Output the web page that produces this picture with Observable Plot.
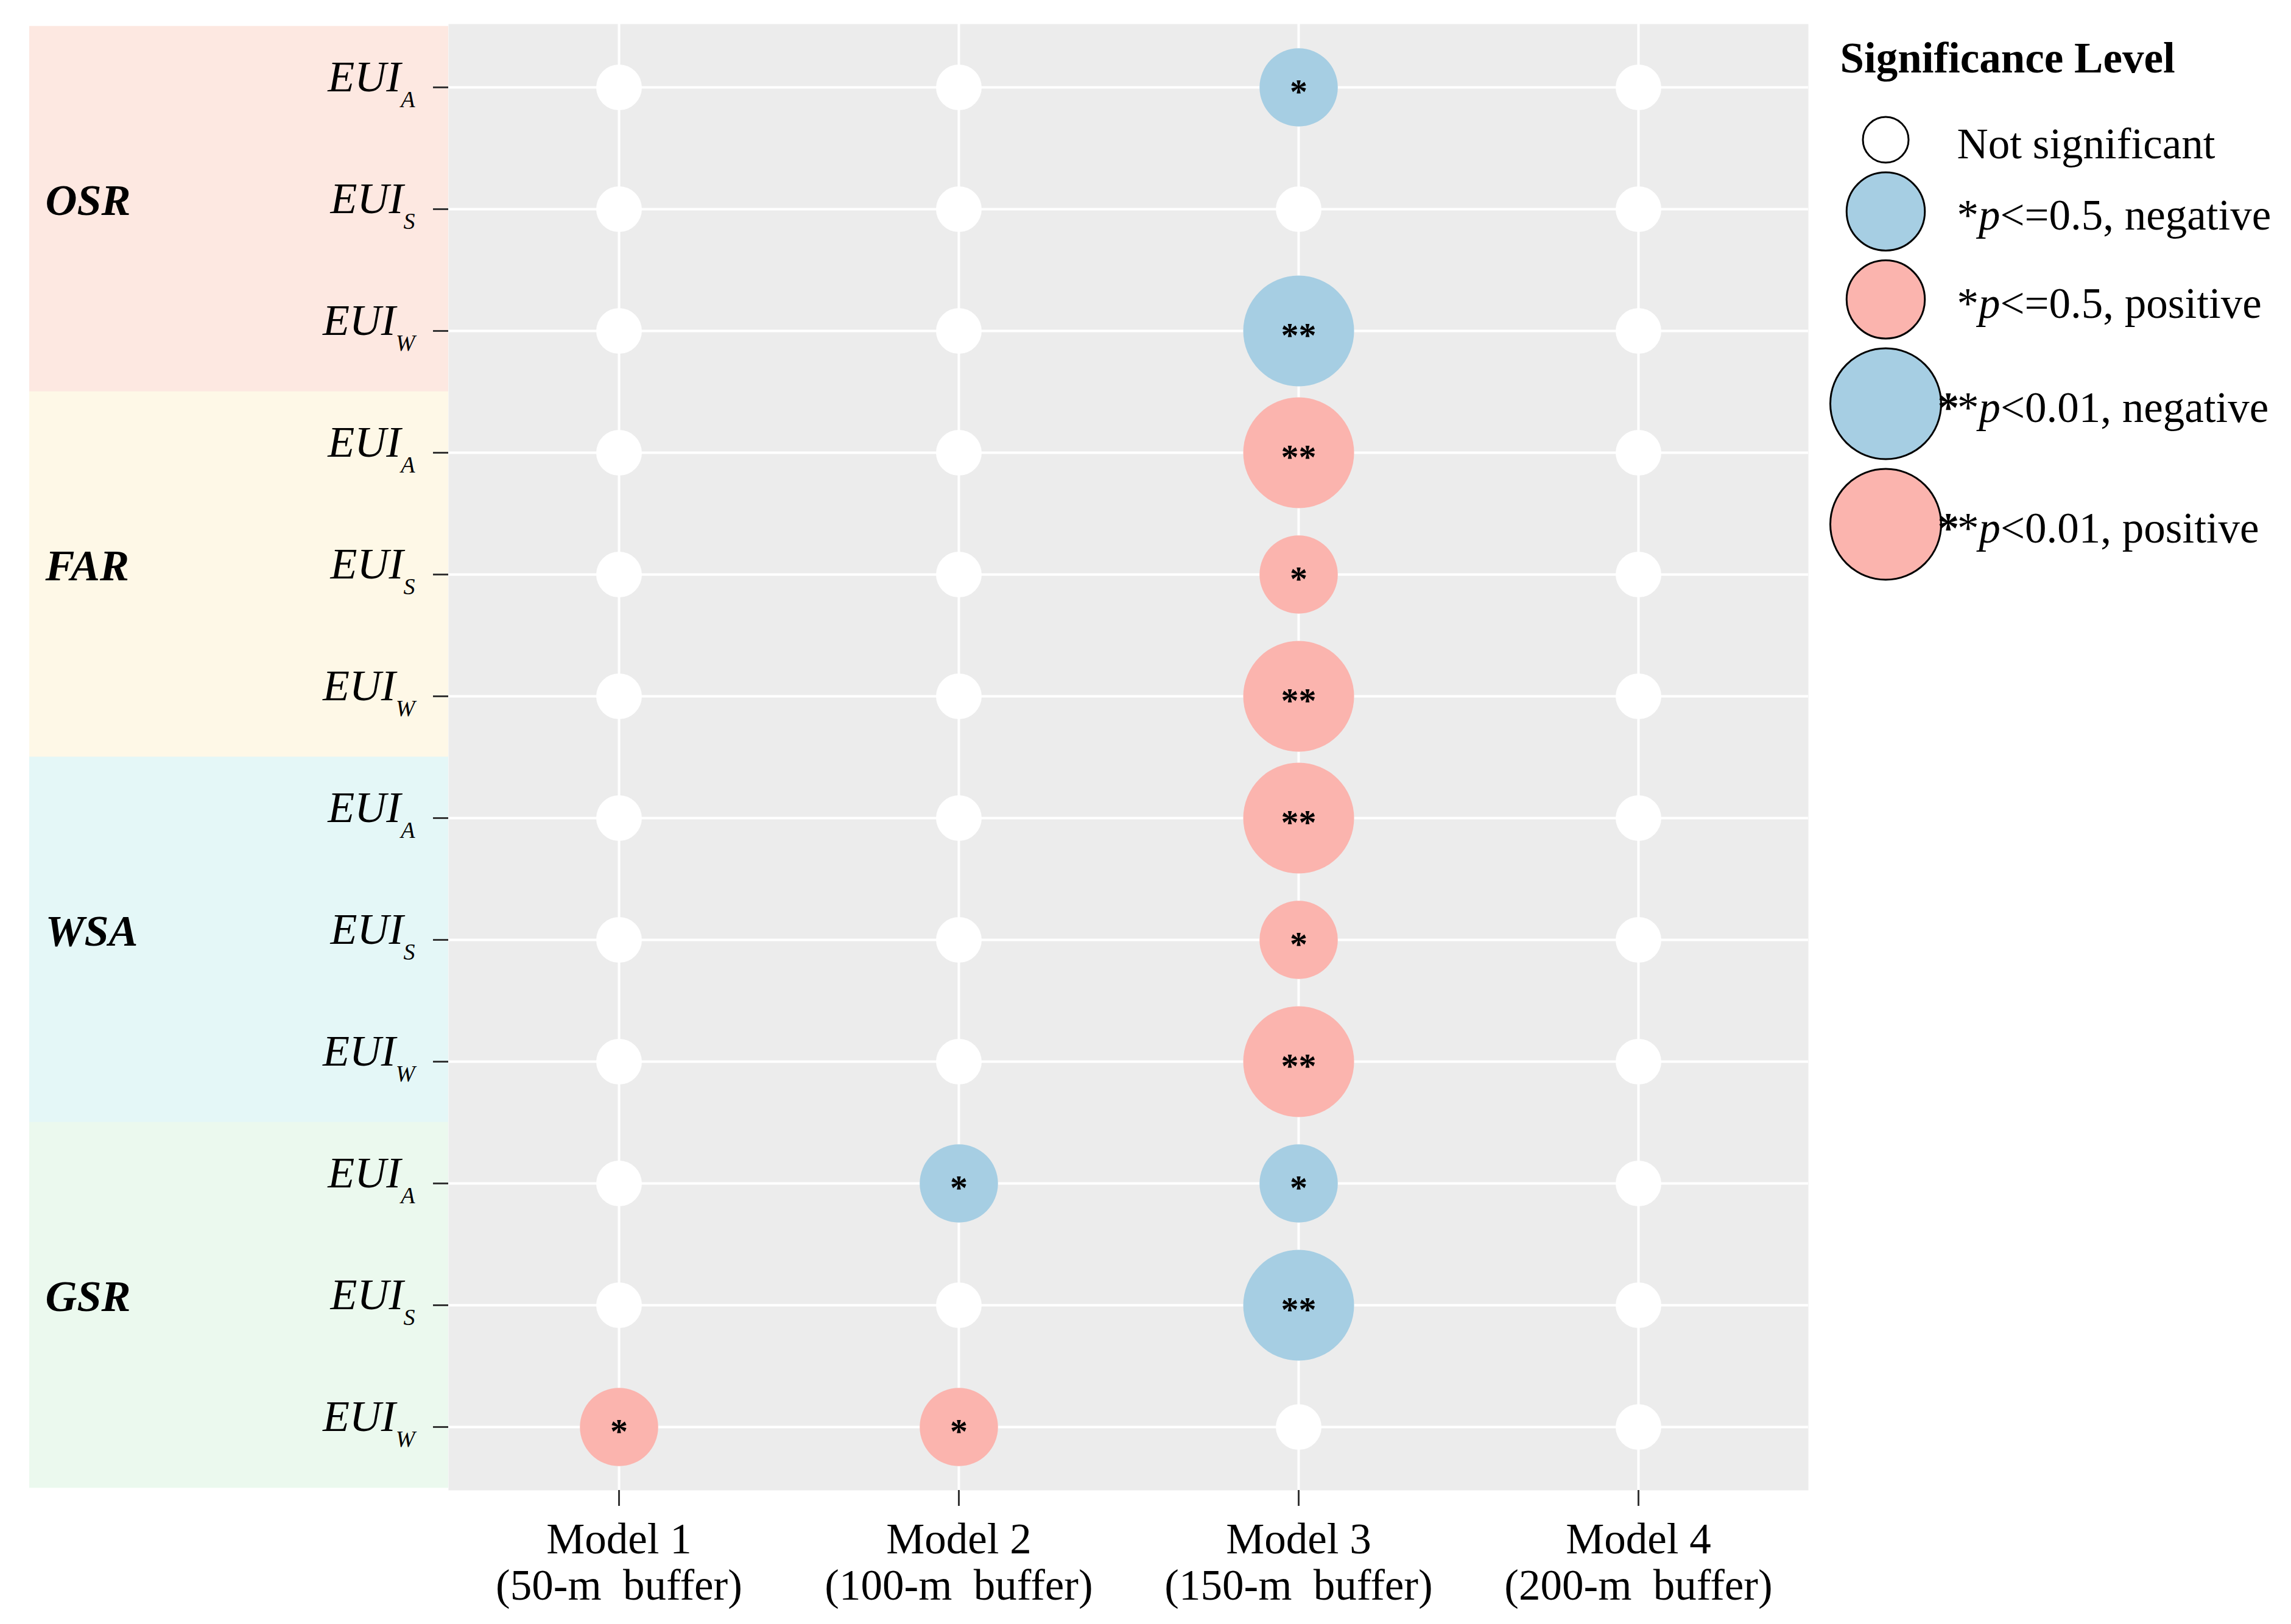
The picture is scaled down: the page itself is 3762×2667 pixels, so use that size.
<!DOCTYPE html>
<html><head><meta charset="utf-8">
<script src="https://cdn.jsdelivr.net/npm/d3@7"></script>
<script src="https://cdn.jsdelivr.net/npm/@observablehq/plot@0.6"></script>
<style>
html,body{margin:0;padding:0;background:#fff;}
#wrap{position:relative;width:3762px;height:2667px;overflow:hidden;}
#legend{position:absolute;left:2975px;top:0;}
#main{position:absolute;left:0;top:0;}
</style></head><body><div id="wrap"><div id="main"></div><div id="legend"></div></div>
<script>
// ---- data ----
const groups = ["OSR", "FAR", "WSA", "GSR"];
const indicators = ["A", "S", "W"];
const models = ["Model 1", "Model 2", "Model 3", "Model 4"];
const buffers = ["(50-m  buffer)", "(100-m  buffer)", "(150-m  buffer)", "(200-m  buffer)"];
// significance codes per row (OSR A,S,W; FAR A,S,W; WSA A,S,W; GSR A,S,W)
const model1 = ["ns","ns","ns", "ns","ns","ns", "ns","ns","ns", "ns","ns","*+"];
const model2 = ["ns","ns","ns", "ns","ns","ns", "ns","ns","ns", "*-","ns","*+"];
const model3 = ["*-","ns","**-", "**+","*+","**+", "**+","*+","**+", "*-","**-","ns"];
const model4 = ["ns","ns","ns", "ns","ns","ns", "ns","ns","ns", "ns","ns","ns"];
const legendTitle = "Significance Level";
const legendLabels = ["Not significant", "*p<=0.5, negative", "*p<=0.5, positive", "**p<0.01, negative", "**p<0.01, positive"];
const legendCodes = ["ns", "*-", "*+", "**-", "**+"];

// ---- derived ----
const levelOf = c => (c.match(/\*/g) || []).length;
const kindOf = c => c === "ns" ? "ns" : (c.endsWith("-") ? "neg" : "pos");
const rows = groups.flatMap(g => indicators.map(i => `${g}-${i}`));
const cells = [model1, model2, model3, model4].flatMap((vals, m) =>
  vals.map((code, k) => ({model: models[m], row: rows[k], level: levelOf(code), kind: kindOf(code)})));

const FONT = "'Liberation Serif','Times New Roman',serif";
const W = 3762, H = 2667;
const mt = 39, mb = 220, ml = 736, mr = 793;
const step = (H - mt - mb) / rows.length;
const colorDomain = ["ns", "neg", "pos", ...groups];
const colorRange = ["#ffffff", "#a6cee3", "#fbb4ae", "#fde8e1", "#fef8e7", "#e4f7f7", "#ebf9ee"];
const rScale = {type: "linear", domain: [0, 2], range: [37.5, 91]};

const main = Plot.plot({
  width: W, height: H,
  marginTop: mt, marginBottom: mb, marginLeft: ml, marginRight: mr,
  style: {fontFamily: FONT, background: "transparent", overflow: "visible", color: "black"},
  x: {type: "point", domain: models, padding: 0.5, label: null},
  y: {type: "point", domain: rows, padding: 0.5, label: null},
  r: rScale,
  color: {domain: colorDomain, range: colorRange},
  marks: [
    Plot.frame({fill: "#ececec", stroke: "none"}),
    Plot.rect(groups, {
      y1: g => `${g}-A`, y2: g => `${g}-W`, fill: g => g,
      insetTop: -step / 2, insetBottom: -step / 2,
      insetLeft: -(ml - 48), insetRight: W - ml - mr
    }),
    Plot.gridX({stroke: "white", strokeOpacity: 1, strokeWidth: 4}),
    Plot.gridY({stroke: "white", strokeOpacity: 1, strokeWidth: 4}),
    Plot.dot(cells, {x: "model", y: "row", r: "level", fill: "kind", stroke: "none"}),
    Plot.text(cells.filter(d => d.level > 0), {
      x: "model", y: "row", text: d => "*".repeat(d.level),
      fontSize: 58, fontWeight: "bold", dy: 8, fill: "black"
    }),
    Plot.text(groups, {
      y: g => `${g}-S`, text: g => g, frameAnchor: "left", textAnchor: "start",
      dx: 74 - ml, dy: -14, fontSize: 72, fontWeight: "bold", fontStyle: "italic", fill: "black"
    }),
    Plot.axisX({
      tickSize: 26, tickPadding: 24, fontSize: 71, lineHeight: 1.07, stroke: "#333", strokeWidth: 3,
      tickFormat: d => `${d}\n${buffers[models.indexOf(d)].replace(/  /g, "\u00a0 ")}`
    }),
    Plot.axisY({
      tickSize: 25, tickPadding: 30, fontSize: 72, fontStyle: "italic", stroke: "#333", strokeWidth: 3,
      tickFormat: d => "EUI_" + d.split("-")[1]
    })
  ]
});

// rich y tick labels: EUI with subscript
d3.select(main).selectAll('g[aria-label="y-axis tick label"] text').each(function () {
  const [base, sub] = this.textContent.split("_");
  this.textContent = "";
  this.setAttribute("y", "6");
  const t = d3.select(this);
  t.append("tspan").text(base);
  t.append("tspan").attr("font-size", 38).attr("dy", 26).text(sub);
});
document.getElementById("main").appendChild(main);

// ---- legend ----
const rFn = d3.scaleLinear(rScale.domain, rScale.range);
const legendItems = [];
legendCodes.forEach((code, i) => {
  const level = levelOf(code);
  const prev = legendItems[i - 1];
  const cy = prev ? prev.cy + rFn(prev.level) + rFn(level) + 16 : 229;
  legendItems.push({label: legendLabels[i], level, kind: kindOf(code), cy});
});

const legend = Plot.plot({
  width: 787, height: 1000, margin: 0, axis: null,
  style: {fontFamily: FONT, background: "transparent", overflow: "visible", color: "black"},
  x: {type: "identity", axis: null}, y: {type: "identity", axis: null},
  r: rScale,
  color: {domain: colorDomain, range: colorRange},
  marks: [
    Plot.text([legendTitle], {
      text: d => d, frameAnchor: "top-left", dx: 46, dy: 118, lineAnchor: "bottom",
      textAnchor: "start", fontSize: 71, fontWeight: "bold", fill: "black"
    }),
    Plot.dot(legendItems, {
      y: "cy", r: "level", fill: "kind", stroke: "black", strokeWidth: 3,
      frameAnchor: "left", dx: 121
    }),
    Plot.text(legendItems, {
      y: d => d.cy + 30, text: "label", frameAnchor: "left", dx: 238,
      textAnchor: "start", lineAnchor: "bottom", fontSize: 71, fill: "black"
    })
  ]
});

d3.select(legend).selectAll("text").each(function () {
  const s = this.textContent;
  const m = s.match(/^(\*+)(p)(.*)$/);
  if (!m) return;
  this.textContent = "";
  const t = d3.select(this);
  if (m[1].length === 2) {
    t.append("tspan").attr("font-weight", "bold").attr("dx", -32).text("*");
    t.append("tspan").attr("dx", -3).text("*");
  } else {
    t.append("tspan").text("*");
  }
  t.append("tspan").attr("font-style", "italic").text(m[2]);
  t.append("tspan").text(m[3]);
});
document.getElementById("legend").appendChild(legend);
</script>
</body></html>
